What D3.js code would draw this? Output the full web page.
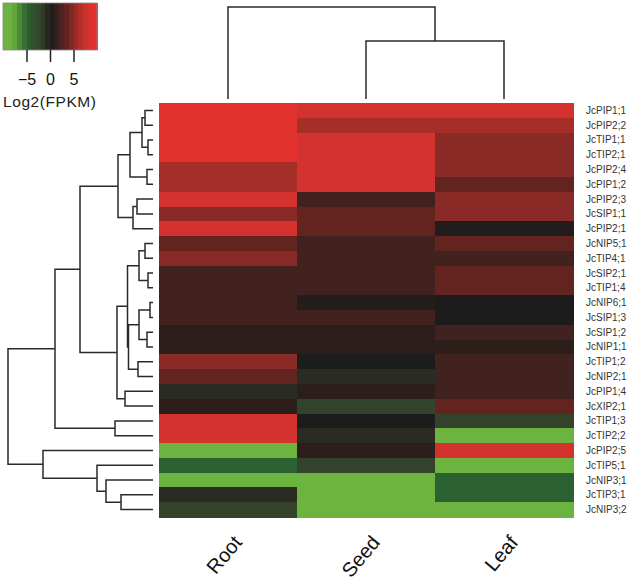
<!DOCTYPE html>
<html><head><meta charset="utf-8">
<script src="https://cdn.jsdelivr.net/npm/d3@7"></script>
<style>body{margin:0;background:#fff}</style>
</head><body><svg id="c" width="630" height="580"></svg>
<script>
const genes = ["JcPIP1;1","JcPIP2;2","JcTIP1;1","JcTIP2;1","JcPIP2;4","JcPIP1;2","JcPIP2;3","JcSIP1;1","JcPIP2;1","JcNIP5;1","JcTIP4;1","JcSIP2;1","JcTIP1;4","JcNIP6;1","JcSIP1;3","JcSIP1;2","JcNIP1;1","JcTIP1;2","JcNIP2;1","JcPIP1;4","JcXIP2;1","JcTIP1;3","JcTIP2;2","JcPIP2;5","JcTIP5;1","JcNIP3;1","JcTIP3;1","JcNIP3;2"];
const samples = ["Root","Seed","Leaf"];
const rootVals = [9.5,9.5,9.5,9.5,6,6,8,5,8,3.5,5,2,2,2,2,1,1,5,3.5,-0.7,1,8,8,-9.5,-5,-9.5,-0.7,-2];
const seedVals = [8,6,8,8,8,8,2,3.5,3.5,2,2,2,2,0.5,2,1,1,0,-0.7,1,-2,0,-0.7,1,-2,-9.5,-9.5,-9.5];
const leafVals = [8,6,5,5,5,3.5,5,5,0.4,3.5,2,3.5,3.5,0,0,2,1,2,2,2,3.5,-2,-9.5,8,-9.5,-5,-5,-9.5];
// hclust-style merges: [left, right, height]; negative = leaf -(row+1), positive = earlier merge (1-based)
const rowMerge = [
  [-3,-4,1.0],[-12,-13,1.0],[-14,-15,0.6],[-1,-2,1.6],[-5,-6,1.2],[-10,-11,1.6],[-16,-17,1.2],
  [4,1,2.2],[-7,-8,3.2],[6,2,2.8],[3,7,2.8],[-18,-19,3.0],[8,5,4.6],[9,-9,4.0],[11,12,4.9],
  [10,15,5.1],[-20,-21,5.6],[13,14,7.0],[16,17,7.2],[18,19,14.6],[-22,-23,7.6],[20,21,19.6],
  [-27,-28,6.4],[-26,23,9.4],[-25,24,11.2],[-24,25,22],[22,26,29]
];
const colMerge = [[-2,-3,0.63],[-1,1,1.0]];
const keyTicks = [-5,0,5];
const keyStops = [-10,-8,-5,-2,-0.7,0,1,2,3.5,5,6,8,9.5];
const keyColors = ["#6db33f","#6db33f","#2b6130","#33422a","#2a2b22","#1c1c1c","#2b1e1b","#42221f","#632420","#8a2a26","#a62e28","#d4322e","#e3322e"];

const svg = d3.select("#c");
const hx0 = 159, hx1 = 573, hy0 = 103, hy1 = 517;
const color = d3.scaleLinear().domain(keyStops).range(keyColors).clamp(true);
const x = d3.scaleBand().domain(samples).range([hx0, hx1]);
const y = d3.scaleBand().domain(genes).range([hy0, hy1]);
const series = [rootVals, seedVals, leafVals];

// heatmap
samples.forEach((s, j) => {
  svg.append("g").attr("shape-rendering", "crispEdges").selectAll("rect").data(genes).join("rect")
    .attr("x", x(s)).attr("y", g => y(g))
    .attr("width", x.bandwidth() + 0.6).attr("height", y.bandwidth() + 0.6)
    .attr("fill", (g, i) => color(series[j][i]));
});

// dendrogram helper
function dendro(merge, leafPos, hScale, horizontal) {
  const pos = [], hts = [];
  const get = r => r < 0 ? [leafPos(-r - 1), 0] : [pos[r - 1], hts[r - 1]];
  const paths = [];
  merge.forEach(([a, b, h], k) => {
    const [p1, h1] = get(a), [p2, h2] = get(b);
    pos[k] = (p1 + p2) / 2; hts[k] = h;
    if (horizontal) {
      paths.push(`M${hScale(h1)},${p1}H${hScale(h)}V${p2}H${hScale(h2)}`);
    } else {
      paths.push(`M${p1},${hScale(h1)}V${hScale(h)}H${p2}V${hScale(h2)}`);
    }
  });
  return paths;
}
const rowH = d3.scaleLinear().domain([0, 29]).range([153, 8]);
const colH = d3.scaleLinear().domain([0, 1]).range([99, 7]);
svg.append("g").selectAll("path")
  .data(dendro(rowMerge, i => y(genes[i]) + y.bandwidth() / 2, rowH, true))
  .join("path").attr("d", d => d).attr("fill", "none").attr("stroke", "#2a2a2a").attr("stroke-width", 1.5);
svg.append("g").selectAll("path")
  .data(dendro(colMerge, i => x(samples[i]) + x.bandwidth() / 2, colH, false))
  .join("path").attr("d", d => d).attr("fill", "none").attr("stroke", "#2a2a2a").attr("stroke-width", 1.5);

// row labels
svg.append("g").selectAll("text").data(genes).join("text")
  .attr("x", 586).attr("y", g => y(g) + y.bandwidth() / 2).attr("dy", "0.35em")
  .attr("font-family", "Liberation Sans, Arial, sans-serif").attr("font-size", 10)
  .attr("fill", "#333").text(g => g);

// column labels
svg.append("g").selectAll("text").data(samples).join("text")
  .attr("transform", s => `translate(${x(s) + x.bandwidth() / 2 + 15},${543}) rotate(-50)`)
  .attr("text-anchor", "end")
  .attr("font-family", "Liberation Sans, Arial, sans-serif").attr("font-size", 20)
  .attr("fill", "#111").text(s => s);

// colour key
const kx = d3.scaleLinear().domain([-10, 10]).range([3, 97]);
const bands = d3.range(-10, 10, 1);
const key = svg.append("g");
key.append("g").attr("shape-rendering", "crispEdges").selectAll("rect").data(bands).join("rect")
  .attr("x", d => kx(d)).attr("y", 3).attr("width", kx(1) - kx(0) + 0.6).attr("height", 47)
  .attr("fill", d => color(d + 0.5));
key.append("rect").attr("x", 3).attr("y", 3).attr("width", 94).attr("height", 47)
  .attr("fill", "none").attr("stroke", "#888").attr("stroke-width", 0.8);
const ax = key.append("g").attr("transform", "translate(0,50)")
  .call(d3.axisBottom(kx).tickValues(keyTicks).tickSize(12).tickPadding(12).tickFormat(d3.format("d")));
ax.select(".domain").remove();
ax.selectAll("line").attr("stroke", "#222").attr("stroke-width", 1.5);
ax.selectAll("text").attr("font-family", "Liberation Sans, Arial, sans-serif").attr("font-size", 16).attr("fill", "#111");
key.append("text").attr("x", 3).attr("y", 107)
  .attr("font-family", "Liberation Sans, Arial, sans-serif").attr("font-size", 15.5)
  .attr("textLength", 93).attr("fill", "#222").text("Log2(FPKM)");
</script>
</body></html>
